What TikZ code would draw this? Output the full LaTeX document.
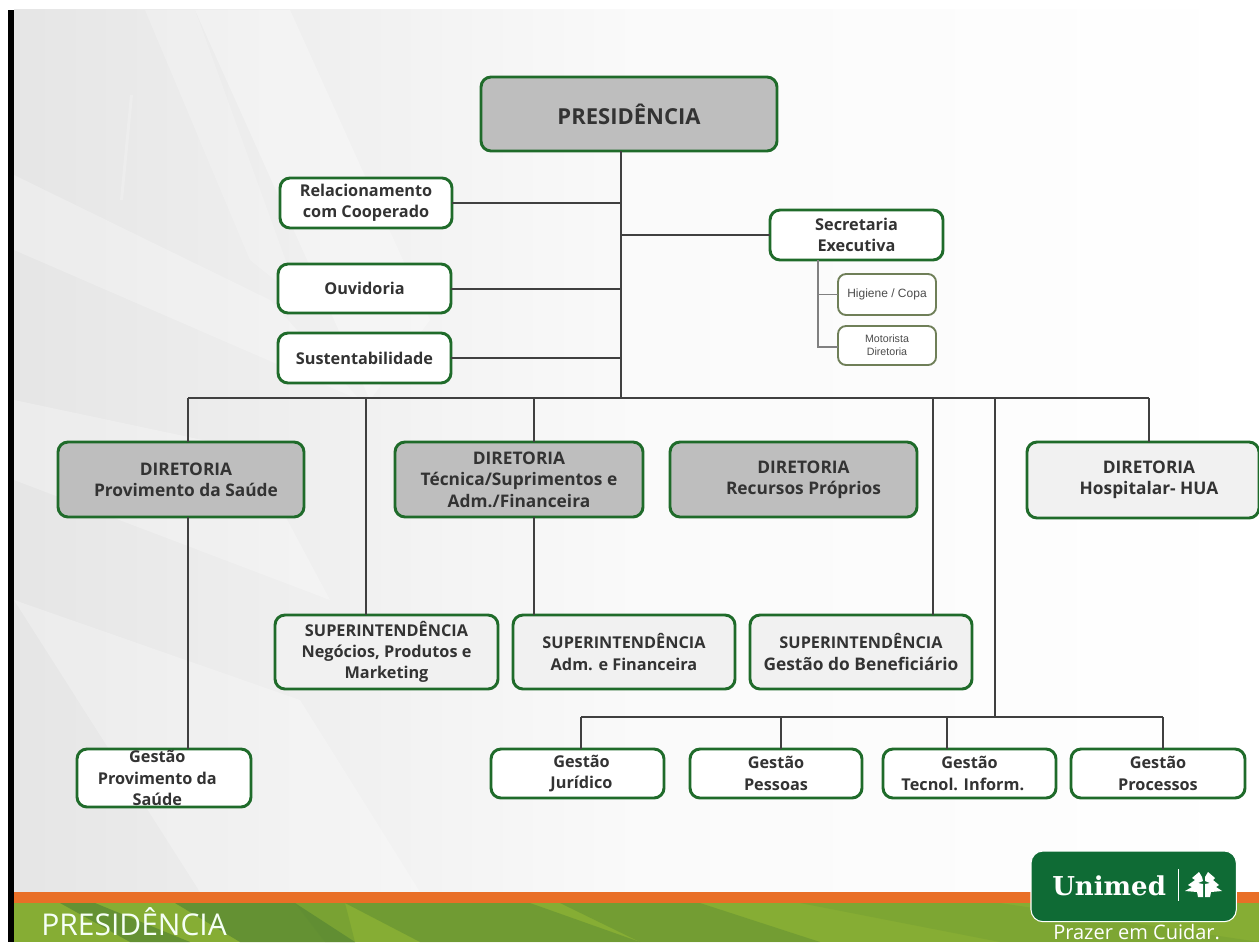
\documentclass[tikz,border=0pt]{standalone}
\usepackage{fontspec}
\setmainfont{Open Sans}
\newfontfamily\boxfont{Open Sans}
\newfontfamily\thinfont{Liberation Sans}
\newfontfamily\logofont{DejaVu Serif}
\newfontfamily\bandfont{Open Sans}
\definecolor{boxgreen}{HTML}{1F6B2A}
\definecolor{olivebox}{HTML}{6F7F58}
\definecolor{boxgray}{HTML}{BEBEBE}
\definecolor{boxlight}{HTML}{F1F1F1}
\definecolor{txt}{HTML}{333333}
\definecolor{bandorange}{HTML}{E96F27}
\definecolor{bandgreen}{HTML}{86AD34}
\definecolor{banddark}{HTML}{5C8A33}
\definecolor{logogreen}{HTML}{0F6B35}
\tikzset{x=0.75pt,y=-0.75pt,
  orgbox/.style={draw=boxgreen,line width=2.2pt,rounded corners=7.5pt,align=center,inner sep=0pt,outer sep=0pt,
    font=\boxfont\bfseries\fontsize{12.2}{16}\selectfont,text=txt,anchor=north west},
  whitebox/.style={orgbox,fill=white},
  graybox/.style={orgbox,fill=boxgray},
  lightbox/.style={orgbox,fill=boxlight},
  bigtxt/.style={font=\boxfont\bfseries\fontsize{13}{16}\selectfont},
  smallbox/.style={draw=olivebox,line width=1.4pt,rounded corners=6pt,fill=white,align=center,inner sep=0pt,outer sep=0pt,
    font=\thinfont\fontsize{9}{10}\selectfont,text=black!70,anchor=north west},
  link/.style={draw=black!75,line width=1.5pt},
  sublink/.style={draw=black!50,line width=1.3pt},
}
\newcommand{\bx}[7]{\node[#1,minimum width=#6*0.75pt,minimum height=#7*0.75pt] (#2) at (#4,#5) {#3};}
\newcommand{\pad}[1]{\rule{#1}{0pt}}
\begin{document}
\begin{tikzpicture}
\useasboundingbox (0,0) rectangle (1259,942);
% page background
\fill[white] (0,0) rectangle (1259,942);
\shade[left color=black!10,right color=white,middle color=black!2] (14,10) rectangle (1259,892);
% rays
\fill[white,opacity=.2] (145,10) -- (195,10) -- (300,300) -- (250,260) -- cycle;
\fill[white,opacity=.3] (195,10) -- (290,10) -- (430,320) -- (370,400) -- cycle;
\fill[white,opacity=.25] (14,175) -- (270,300) -- (360,400) -- (14,250) -- cycle;
\fill[white,opacity=.25] (14,400) -- (250,450) -- (330,600) -- (14,480) -- cycle;
\fill[white,opacity=.25] (14,600) -- (300,700) -- (420,892) -- (200,892) -- cycle;
\fill[white,opacity=.2] (130,95) -- (133,95) -- (123,200) -- (120,200) -- cycle;
% left bar
\fill[black] (8,10) rectangle (14,942);
% bottom band
\fill[bandgreen] (14,903) rectangle (1259,942);
\fill[banddark,opacity=.8] (60,903) -- (95,903) -- (190,942) -- (130,942) -- cycle;
\fill[banddark,opacity=.8] (175,903) -- (295,903) -- (355,942) -- (240,942) -- cycle;
\fill[banddark,opacity=.5] (345,903) -- (530,903) -- (640,942) -- (420,942) -- cycle;
\fill[banddark,opacity=.3] (295,903) -- (345,903) -- (355,942) -- (325,942) -- cycle;
\fill[banddark,opacity=.45] (560,903) -- (700,903) -- (820,942) -- (640,942) -- cycle;
\fill[banddark,opacity=.2] (800,903) -- (1000,903) -- (1259,942) -- (1000,942) -- cycle;
\fill[bandorange] (14,892) rectangle (1259,903);
\node[font=\bandfont\fontsize{22.5}{24}\selectfont,text=white!96!green,anchor=base west,inner sep=0pt] (band) at (41,935) {PRESIDÊNCIA};
% logo
\node[draw=white,line width=0.8pt,fill=logogreen,rounded corners=9pt,minimum width=154pt,minimum height=53pt,inner sep=0pt,outer sep=0pt,anchor=north west] (logo) at (1031,851) {};
\node[font=\logofont\bfseries\fontsize{19.5}{22}\selectfont,text=white,anchor=west,inner sep=0pt] (uni) at (1052,886) {Unimed};
\coordinate (divtop) at (1178,869);
\coordinate (divbot) at (1178,901);
\draw[white,line width=0.5pt] (divtop) -- (divbot);
\fill[white] (1199,872) -- (1192,878) -- (1195,880) -- (1188,885) -- (1192,887) -- (1185,891) -- (1197,892) -- (1198,897) -- (1203,897) -- (1203,884) -- (1198,883) -- (1203,881) -- (1202,877) -- cycle;
\fill[white] (1208,872) -- (1205,877) -- (1205,881) -- (1210,883) -- (1205,884) -- (1205,897) -- (1210,897) -- (1211,892) -- (1222,891) -- (1216,887) -- (1219,885) -- (1213,880) -- (1215,878) -- cycle;
\node[font=\bandfont\fontsize{15}{16}\selectfont,text=white,anchor=base west,inner sep=0pt] (slogan) at (1053,939.5) {Prazer em Cuidar.};
% junctions
\coordinate (trunk) at (621,398);
\coordinate (busL) at (188,398);
\coordinate (busR) at (1149,398);
\coordinate (b366) at (366,398);
\coordinate (b534) at (534,398);
\coordinate (b933) at (933,398);
\coordinate (b995) at (995,398);
\coordinate (low) at (995,717);
\coordinate (lowL) at (581,717);
\coordinate (lowR) at (1163,717);
\coordinate (l781) at (781,717);
\coordinate (l947) at (947,717);
\coordinate (sectop) at (818,260);
\coordinate (hook) at (818,347);
% boxes
\bx{graybox}{pres}{\fontsize{16.5}{18}\selectfont PRESIDÊNCIA}{481}{77}{296}{74}
\bx{whitebox}{rel}{Relacionamento\\com Cooperado}{280}{178}{172}{50}
\bx{whitebox}{ouv}{Ouvidoria}{278}{264}{173}{49}
\bx{whitebox}{sus}{Sustentabilidade}{278}{333}{173}{50}
\bx{whitebox}{sec}{Secretaria\\Executiva}{770}{210}{173}{50}
\bx{smallbox}{hig}{Higiene / Copa}{838}{274}{98}{41}
\bx{smallbox}{mot}{\fontsize{8}{10}\selectfont Motorista\\\fontsize{8}{10}\selectfont Diretoria}{838}{326}{98}{39}
\bx{graybox,bigtxt}{dprov}{\pad{7.5pt}DIRETORIA\\\pad{7.5pt}Provimento da Saúde}{58}{442}{246}{75}
\bx{graybox,bigtxt}{dtec}{DIRETORIA\\Técnica/Suprimentos e\\Adm./Financeira}{395}{442}{248}{75}
\bx{graybox,bigtxt}{drec}{\pad{15pt}DIRETORIA\\\pad{15pt}Recursos Próprios}{670}{442}{247}{75}
\bx{lightbox,bigtxt}{dhos}{\pad{9pt}DIRETORIA\\\pad{9pt}Hospitalar- HUA}{1027}{442}{232}{76}
\bx{lightbox}{sneg}{SUPERINTENDÊNCIA\\Negócios, Produtos e\\Marketing}{275}{615}{223}{74}
\bx{lightbox}{sadm}{SUPERINTENDÊNCIA\\Adm. e Financeira}{513}{615}{222}{74}
\bx{lightbox}{sben}{SUPERINTENDÊNCIA\\\fontsize{13}{16}\selectfont Gestão do Beneficiário}{750}{615}{222}{74}
\bx{whitebox}{gprov}{Gestão\pad{10pt}\\Provimento da\pad{10pt}\\Saúde\pad{10pt}}{77}{749}{174}{58}
\bx{whitebox}{gjur}{\pad{6pt}Gestão\\\pad{6pt}Jurídico}{491}{749}{173}{49}
\bx{whitebox}{gpes}{Gestão\\Pessoas}{690}{749}{172}{49}
\bx{whitebox}{gtec}{Gestão\\Tecnol. Inform.\pad{10pt}}{883}{749}{173}{49}
\bx{whitebox}{gpro}{Gestão\\Processos}{1071}{749}{174}{49}
% connectors
\draw[link] (trunk |- pres.south) -- (trunk);
\draw[link] (busL) -- (busR);
\draw[link] (rel.east) -- (rel.east -| trunk);
\draw[link] (ouv.east) -- (ouv.east -| trunk);
\draw[link] (sus.east) -- (sus.east -| trunk);
\draw[link] (sec.west) -- (sec.west -| trunk);
\draw[link] (busL) -- (busL |- dprov.north);
\draw[link] (busL |- dprov.south) -- (busL |- gprov.north);
\draw[link] (b366) -- (b366 |- sneg.north);
\draw[link] (b534) -- (b534 |- dtec.north);
\draw[link] (b534 |- dtec.south) -- (b534 |- sadm.north);
\draw[link] (b933) -- (b933 |- sben.north);
\draw[link] (b995) -- (low);
\draw[link] (busR) -- (busR |- dhos.north);
\draw[link] (lowL) -- (lowR);
\draw[link] (lowL) -- (lowL |- gjur.north);
\draw[link] (l781) -- (l781 |- gpes.north);
\draw[link] (l947) -- (l947 |- gtec.north);
\draw[link] (lowR) -- (lowR |- gpro.north);
\draw[sublink] (sectop) -- (hook) -- (hook -| mot.west);
\draw[sublink] (sectop |- hig.west) -- (hig.west);
\end{tikzpicture}
\end{document}
